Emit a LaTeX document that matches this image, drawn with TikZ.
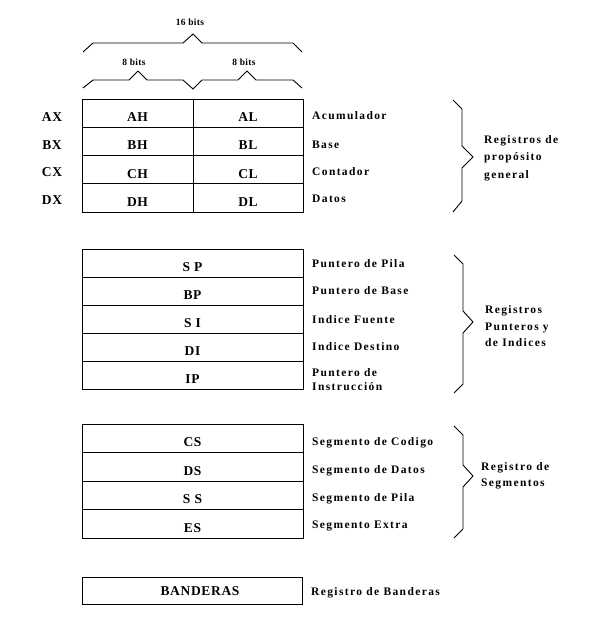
\documentclass[tikz,border=0pt]{standalone}
\usepackage{fontspec}
\setmainfont{Liberation Serif}
\newfontfamily\regfont{Liberation Serif}[LetterSpace=5]
\newfontfamily\descfont{Liberation Serif}[LetterSpace=12]
\newfontfamily\bitfont{Liberation Serif}[LetterSpace=3]
\begin{document}
\begin{tikzpicture}[x=1pt,y=-1pt,
  cell/.style={draw, line width=0.9pt, inner sep=0pt, text height=17pt, text depth=0pt,
    font=\fontsize{13.5}{15}\selectfont\regfont\bfseries},
  reg/.style={anchor=base, inner sep=0pt, font=\fontsize{13.5}{15}\selectfont\regfont\bfseries},
  desc/.style={anchor=base west, inner sep=0pt, align=left, font=\fontsize{11.5}{13.3}\selectfont\descfont\bfseries},
  grp/.style={anchor=base west, inner sep=0pt, align=left, font=\fontsize{11.5}{17.5}\selectfont\descfont\bfseries},
  bits/.style={anchor=base, inner sep=0pt, font=\fontsize{9.5}{10}\selectfont\bitfont\bfseries},
  brace/.style={draw, line width=0.9pt, line join=miter}]
\useasboundingbox (0,0) rectangle (589,617);

% ---- bit braces
\node[bits] (b16) at (190,26) {16 bits};
\node[bits] (b8a) at (134,66) {8 bits};
\node[bits] (b8b) at (244,66) {8 bits};
\draw[brace] (83,52) -- (93,43) -- (183,43) -- (193,34) -- (202,43) -- (293,43) -- (302,52);
\draw[brace] (83,88) -- (93,80) -- (129,80) -- (138,71) -- (147,80) -- (183,80) -- (193,89)
  -- (202,80) -- (238,80) -- (247,71) -- (256,80) -- (293,80) -- (302,88);

% ---- general purpose registers
\node[cell, minimum width=111pt, minimum height=28.25pt] (ah) at (137.5,113.1) {AH};
\node[cell, minimum width=110pt, minimum height=28.25pt] (al) at (248,113.1) {AL};
\node[cell, minimum width=111pt, minimum height=28.25pt] (bh) at (137.5,141.4) {BH};
\node[cell, minimum width=110pt, minimum height=28.25pt] (bl) at (248,141.4) {BL};
\node[cell, minimum width=111pt, minimum height=28.25pt] (ch) at (137.5,169.6) {CH};
\node[cell, minimum width=110pt, minimum height=28.25pt] (cl) at (248,169.6) {CL};
\node[cell, minimum width=111pt, minimum height=28.25pt] (dh) at (137.5,197.9) {DH};
\node[cell, minimum width=110pt, minimum height=28.25pt] (dl) at (248,197.9) {DL};

\node[reg] (ax) at (52,121.7) {AX};
\node[reg] (bx) at (52,150) {BX};
\node[reg] (cx) at (52,176.7) {CX};
\node[reg] (dx) at (52,205) {DX};

\node[desc] (acu) at (312,120) {Acumulador};
\node[desc] (bas) at (312,149) {Base};
\node[desc] (con) at (312,176) {Contador};
\node[desc] (dat) at (312,203) {Datos};

\draw[brace] (453,100) -- (462,109) -- (462,146) -- (473,157) -- (462,168) -- (462,201) -- (453,212);
\node[grp] (g1) at (484,178.5) {Registros de\\propósito\\general};

% ---- pointer and index registers
\node[cell, minimum width=221pt, minimum height=28pt] (sp) at (192.5,263) {S P};
\node[cell, minimum width=221pt, minimum height=28pt] (bp) at (192.5,291) {BP};
\node[cell, minimum width=221pt, minimum height=28pt] (si) at (192.5,319) {S I};
\node[cell, minimum width=221pt, minimum height=28pt] (di) at (192.5,347) {DI};
\node[cell, minimum width=221pt, minimum height=28pt] (ip) at (192.5,375) {IP};

\node[desc] (pp) at (312,267.7) {Puntero de Pila};
\node[desc] (pb) at (312,294.3) {Puntero de Base};
\node[desc] (if) at (312,323.3) {Indice Fuente};
\node[desc] (id) at (312,350) {Indice Destino};
\node[desc] (pi) at (312,390) {Puntero de\\Instrucción};

\draw[brace] (454,255) -- (463,264) -- (463,311) -- (473,322) -- (463,333) -- (463,384) -- (454,393);
\node[grp, font=\fontsize{11.5}{16.7}\selectfont\descfont\bfseries] (g2) at (485,346.7) {Registros\\Punteros y\\de Indices};

% ---- segment registers
\node[cell, minimum width=221pt, minimum height=28.5pt] (cs) at (192.5,438.25) {CS};
\node[cell, minimum width=221pt, minimum height=28.5pt] (ds) at (192.5,466.75) {DS};
\node[cell, minimum width=221pt, minimum height=28.5pt] (ss) at (192.5,495.25) {S S};
\node[cell, minimum width=221pt, minimum height=28.5pt] (es) at (192.5,523.75) {ES};

\node[desc] (sc) at (312,445) {Segmento de Codigo};
\node[desc] (sd) at (312,473.3) {Segmento de Datos};
\node[desc] (sl) at (312,501.7) {Segmento de Pila};
\node[desc] (se) at (312,528.3) {Segmento Extra};

\draw[brace] (454,426) -- (463,435) -- (463,465) -- (473,476) -- (463,487) -- (463,529) -- (454,538);
\node[grp, font=\fontsize{11.5}{16.7}\selectfont\descfont\bfseries] (g3) at (481,486.7) {Registro de\\Segmentos};

% ---- flags
\node[cell, minimum width=220pt, minimum height=27pt, text height=10.4pt] (ban) at (192,590.5) {\hspace*{16pt}BANDERAS};
\node[desc] (rb) at (311,595.7) {Registro de Banderas};
\end{tikzpicture}
\end{document}
